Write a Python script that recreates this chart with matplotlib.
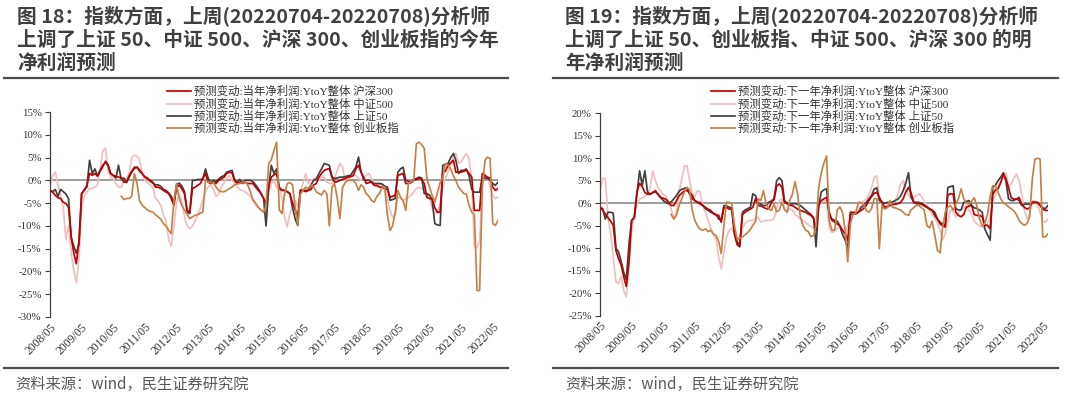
import matplotlib
matplotlib.use("Agg")
import matplotlib.pyplot as plt
from matplotlib.lines import Line2D
from matplotlib.ticker import FuncFormatter, MultipleLocator
import numpy as np
import pandas as pd

nan = np.nan

# monthly points, 2008/05 .. 2022/07
dates = pd.date_range("2008-05-01", periods=171, freq="MS")
tick_years = list(range(2008, 2023))
tick_dates = [pd.Timestamp(f"{y}-05-01") for y in tick_years]
tick_labels = [f"{y}/05" for y in tick_years]

# ---- figure 18: current-year net profit forecast change (%)
hs300_cur = [
    -2.2, -2.6, -3.3, -3.8, -4.0, -4.8, -5.1, -5.9, -12.5, -16.1, -18.3, -13.2,
    -2.9, -2.2, -1.1, 1.5, 1.1, 1.5, 0.9, 2.2, 3.3, 4.0, 3.3, 1.5,
    1.1, 0.9, 0.7, 0.6, -0.4, -0.4, 0.7, 1.8, 2.6, 2.9, 2.3, 1.5,
    0.7, 0.4, 0.0, -0.4, -1.5, -1.5, -1.8, -2.2, -2.6, -2.9, -4.0, -5.5,
    -1.5, -1.1, -1.8, -2.9, -6.6, -7.0, -1.8, -1.5, -1.1, -0.7, 0.4, 1.5,
    -0.4, -0.7, -0.4, -0.7, 0.0, 0.4, 0.7, 1.5, 1.8, 1.6, 0.0, -0.7,
    -0.4, -0.7, -0.4, -0.7, -0.7, -0.7, -1.5, -2.2, -2.9, -4.0, -5.1, -1.1,
    0.7, 1.2, 1.5, -1.5, -2.2, -2.2, -2.5, -2.9, -5.0, -6.5, -8.0, -2.2,
    -2.2, -2.5, -2.2, -2.0, -1.0, -0.7, 0.7, 1.5, 2.2, 2.4, 2.6, 0.7,
    -0.4, -0.3, 0.0, 0.2, 0.4, 0.7, 0.8, 1.0, 2.5, 3.3, 1.8, 0.7,
    -0.7, -0.5, -0.4, -1.1, -1.1, -1.5, -1.5, -1.8, -2.0, -3.7, -3.5, -3.3,
    1.1, 1.3, 1.5, -0.7, -0.7, -0.5, 0.0, 0.2, 0.4, 0.2, -0.7, -3.7,
    -4.0, -4.0, -6.0, -7.0, -7.0, 1.8, 2.0, 3.3, 3.8, 4.4, 1.8, 1.8,
    1.8, 2.0, 2.2, 1.5, 0.7, -6.6, -6.6, -6.6, 1.5, 1.0, 0.7, 0.5,
    -1.5, -2.2, -1.8,
]
zz500_cur = [
    -1.0, 1.0, 1.8, -1.0, -3.5, -6.0, -13.0, -10.0, -16.0, -20.0, -22.5, -17.0,
    -6.0, -3.5, -2.5, -1.8, -1.8, -1.5, -1.0, 2.5, 6.5, 7.0, 2.0, 0.7,
    0.3, -0.7, -1.5, -1.5, -0.3, 0.5, 1.5, 5.0, 5.5, 5.3, 4.5, 1.5,
    0.0, -0.5, -1.0, -1.5, -4.0, -4.5, -5.5, -7.5, -9.0, -13.0, -14.5, -10.0,
    -5.0, -3.0, -4.5, -8.0, -10.0, -10.6, -10.0, -9.0, -7.5, -6.0, -4.5, -2.5,
    -1.5, -1.0, -2.0, -3.5, -3.0, -1.5, -0.5, 0.5, 1.0, 0.0, -0.5, -1.5,
    -2.0, -2.2, -2.5, -3.0, -3.5, -4.0, -5.5, -6.0, -6.5, -7.0, -7.0, -2.5,
    -0.7, 0.0, -1.5, -1.8, -3.7, -8.0, -10.2, -7.3, -5.9, -4.4, -5.9, -2.2,
    -0.7, 1.5, -0.7, 0.0, 0.4, 0.4, 0.0, 0.7, 0.7, -0.4, -0.7, -0.7,
    0.4, 2.2, 3.7, 2.9, 0.0, 0.4, 0.7, 1.1, 1.1, 0.4, 0.0, 0.7,
    1.1, 1.5, 0.4, -1.1, -1.5, -0.7, -1.1, -2.2, -4.0, -6.6, -8.1, -7.7,
    -3.7, -4.0, -4.4, -4.0, -3.7, -3.3, -2.6, -1.8, -1.5, -1.8, -2.2, -2.9,
    -4.0, -6.2, -7.0, -7.3, -5.1, -1.5, 0.4, 1.8, 3.7, 5.1, 5.9, 3.7,
    4.0, 5.1, 5.9, 4.8, 0.0, -14.6, -14.8, -13.2, -0.7, 1.5, 0.7, -1.5,
    -3.3, -4.0, -3.7,
]
sz50_cur = [
    -2.2, -2.5, -2.0, -3.5, -2.0, -2.5, -3.0, -4.0, -12.5, -14.5, -16.0, -14.0,
    -3.0, -2.0, -1.5, 4.4, 1.5, 2.5, 1.0, 2.0, 3.0, 4.2, 3.5, 1.5,
    1.0, 0.5, 3.3, 0.3, 0.5, -0.5, 1.0, 2.0, 2.9, 2.8, 2.0, 1.5,
    0.8, 0.5, -0.2, -0.6, -1.0, -1.0, -1.3, -2.0, -2.2, -2.8, -3.5, -5.0,
    -1.0, -0.6, -1.2, -2.5, -7.0, -7.3, 0.0, 0.0, 0.2, 0.2, 0.3, 2.5,
    0.5, -0.5, 0.0, -0.3, 0.3, 0.8, 1.0, 1.8, 2.0, 2.2, 0.3, -0.5,
    0.2, -0.5, 0.0, 0.0, 0.0, -0.3, -1.0, -1.8, -2.8, -4.0, -10.0, -1.5,
    3.3, 1.5, 2.5, -1.8, -2.2, -2.2, -2.5, -2.9, -6.0, -8.5, -9.9, -2.2,
    -2.2, -2.2, -2.2, -1.0, 0.0, 0.3, 1.5, 2.5, 3.7, 3.5, 3.3, 0.7,
    0.4, 0.5, 0.7, 0.7, 0.8, 1.0, 1.1, 2.0, 2.9, 5.1, 2.0, 0.2,
    0.0, 0.0, -0.3, -0.7, -0.7, -0.7, -0.8, -1.3, -1.5, -4.4, -4.2, -4.0,
    1.8, 2.5, 2.9, 0.0, -0.2, -0.4, 0.2, 0.4, 0.7, 0.5, -2.9, -3.0,
    -3.2, -4.4, -9.5, -9.8, -9.9, 3.3, 3.5, 3.7, 5.0, 5.9, 4.4, 1.5,
    2.2, 2.2, 2.5, 1.0, -2.0, -2.6, -2.6, -2.6, 0.7, 0.5, 0.4, 0.0,
    -0.7, -1.1, -0.4,
]
cyb_cur = [nan] * 27 + [
    -3.5, -4.2, -4.0, -4.0, -3.5, 1.5, -0.7, -4.5, -5.5,
    -6.0, -6.5, -6.8, -7.0, -7.5, -8.0, -8.5, -9.5, -10.0, -11.0, -11.7, -4.5,
    -0.7, -4.0, -5.5, -6.5, -7.5, -8.4, -8.0, -7.7, -7.5, -7.2, -7.0, 0.0,
    -0.3, -0.5, -0.5, -1.5, -2.2, -2.5, -2.5, -2.2, -1.8, -1.5, -1.0, -0.8,
    -0.7, -0.5, -0.3, -1.0, -2.5, -4.4, -5.0, -5.9, -6.5, -7.0, -5.5, 3.7,
    4.5, 6.6, 8.4, -6.5, -7.3, -3.0, -0.7, -0.5, -1.0, -6.0, -9.9, -3.0,
    -2.2, -1.5, -1.8, -1.0, -1.5, -2.5, -2.9, -3.2, -2.2, -3.0, -10.0, -1.5,
    -0.7, -4.0, -8.4, -1.5, -0.5, 0.0, 0.0, 0.0, -0.7, -2.2, -1.0, -1.5,
    -2.9, -3.5, -4.4, -4.8, -3.5, -2.9, -1.5, -1.5, -7.7, -11.0, -10.0, -7.0,
    -2.2, -3.7, -4.5, -6.6, -0.7, -0.3, 0.0, 8.0, 8.4, 7.8, 7.0, 0.4,
    -1.5, -3.3, -4.8, -2.6, -0.5, 0.5, 3.7, 3.3, 2.5, 1.0, 0.0, -1.5,
    -2.2, -2.9, -3.0, -5.5, -7.0, -7.5, -24.2, -24.2, -1.5, 4.4, 5.1, 4.8,
    -9.5, -9.9, -8.8,
]

# ---- figure 19: next-year net profit forecast change (%)
hs300_next = [
    -0.9, -1.5, -2.4, -3.2, -4.0, -4.9, -10.5, -12.3, -13.8, -16.5, -18.5, -13.0,
    -3.8, -3.2, 2.5, 4.4, 3.7, 2.4, 2.0, 2.0, 2.4, 2.8, 2.0, 1.3,
    1.1, 0.9, 0.2, -0.5, -0.5, 0.6, 1.7, 2.2, 2.8, 2.8, 2.4, 1.8,
    0.6, 0.2, 0.2, -0.5, -0.9, -1.3, -1.6, -2.3, -2.6, -2.7, -4.2, -1.0,
    -0.9, -1.3, -1.3, -7.0, -9.2, -9.7, -2.5, -2.0, -1.6, -1.3, -0.9, 1.0,
    -0.5, -0.6, -0.9, -1.2, -1.3, 0.2, 0.8, 3.8, 4.3, 3.5, 0.2, -0.1,
    -0.5, -0.5, -0.9, -1.3, -1.6, -1.8, -2.0, -2.4, -2.7, -3.4, -6.0, -0.4,
    0.6, 1.0, 1.3, -2.0, -3.8, -4.2, -4.6, -5.0, -6.0, -6.8, -8.2, -2.0,
    -2.0, -2.2, -2.0, -1.6, -1.2, -0.5, 0.6, 1.5, 2.2, 2.4, 1.3, 0.2,
    -0.9, -0.7, -0.5, -0.3, -0.2, -0.1, 0.2, 1.0, 2.5, 3.5, 2.4, 0.3,
    -0.1, -0.1, -0.2, -0.6, -0.9, -1.3, -1.6, -2.7, -3.5, -4.6, -5.0, -5.3,
    1.8, 2.1, 2.1, -2.0, -2.7, -3.0, -2.5, -0.9, -0.6, -0.5, -2.5, -2.7,
    -2.7, -3.0, -4.9, -4.9, -5.7, 2.0, 3.0, 3.2, 4.6, 6.5, 5.5, 3.5,
    1.3, 0.9, 0.9, 1.3, -0.3, -0.9, -1.3, -1.0, 0.2, 0.2, 0.2, -0.5,
    -1.3, -1.6, -1.6,
]
zz500_next = [
    2.8, 5.5, 5.5, -3.0, -7.0, -12.0, -17.5, -17.8, -16.3, -19.5, -20.8, -14.0,
    -6.0, -3.0, -0.1, 0.9, 1.2, 1.5, 2.0, 3.5, 7.2, 5.0, 3.5, 2.8,
    2.0, 1.5, 0.5, -1.2, -3.5, -2.0, 2.5, 5.5, 8.3, 8.3, 5.0, 2.0,
    1.5, 2.8, 2.5, -0.5, -2.0, -3.8, -5.5, -7.0, -8.0, -12.0, -14.5, -11.0,
    -7.5, -6.0, -5.5, -6.5, -7.5, -8.2, -5.5, -4.5, -4.0, -3.8, -3.8, -3.5,
    -3.1, -4.2, -4.0, -3.8, -3.8, -3.8, -3.4, -1.0, 0.5, 1.0, -1.5, -2.0,
    -1.2, -1.5, -2.5, -3.0, -3.5, -3.8, -4.2, -4.8, -5.2, -5.5, -6.0, -0.5,
    0.2, 0.5, 0.5, -5.5, -6.5, -6.2, -5.6, -5.3, -6.0, -7.3, -5.0, -3.0,
    -2.2, -1.6, -1.0, -0.7, 0.5, 1.0, 1.8, 3.5, 5.7, 6.1, 1.3, -0.5,
    -0.7, -0.9, -0.5, 0.3, 0.6, 2.0, 4.3, 5.0, 3.0, 2.0, 1.0, 1.2,
    1.7, 2.1, 1.5, 0.5, -0.5, -1.5, -2.5, -3.3, -4.5, -6.0, -8.2, -6.8,
    -4.0, -1.5, -1.8, -3.0, -2.2, -1.5, -1.0, -0.5, -1.5, -2.5, -4.0, -4.6,
    -5.0, -5.3, -5.3, -4.5, -3.0, 0.3, 2.0, 3.5, 5.0, 5.7, 6.8, 3.5,
    4.3, 5.5, 6.5, 5.0, 2.0, -1.5, -3.5, -2.5, 0.5, 0.5, -0.5, -2.0,
    -4.0, -4.2, -3.5,
]
sz50_next = [
    -0.9, -1.2, -3.5, -2.0, -2.0, -2.2, -10.0, -10.8, -13.0, -15.5, -17.0, -9.0,
    -3.8, -3.2, 2.0, 7.2, 4.0, 7.2, 2.5, 2.0, 2.4, 2.5, 2.0, 1.3,
    0.6, 0.2, -0.1, 0.3, 1.0, 1.7, 2.7, 3.1, 3.3, 3.5, 2.0, 1.0,
    0.6, 0.2, -0.2, -0.5, -1.2, -1.6, -2.0, -2.2, -2.5, -3.5, -3.8, -0.5,
    -0.6, -0.9, -1.0, -6.5, -8.6, -9.3, -2.0, -1.5, -1.2, -0.9, 2.1, 1.7,
    0.0, -0.2, -0.5, -0.5, 0.2, 0.5, 1.0, 5.0, 5.7, 5.0, 0.6, 0.0,
    -0.2, -0.1, -0.1, -0.2, -0.5, -1.0, -1.5, -2.0, -2.5, -3.2, -9.7, -0.5,
    2.5, 3.0, 3.2, -3.0, -3.5, -3.8, -4.0, -5.0, -7.0, -8.2, -10.1, -2.5,
    -2.4, -2.4, -2.0, -1.0, -0.5, 0.2, 1.0, 1.7, 3.2, 3.4, 0.6, 0.2,
    0.0, 0.2, 0.2, 0.3, 0.6, 0.9, 1.6, 2.8, 4.5, 6.8, 1.5, 0.2,
    0.2, 0.2, 0.0, -0.4, -0.8, -1.2, -1.5, -2.0, -3.5, -4.2, -4.6, -5.0,
    3.5, 3.7, 3.9, -1.2, -1.5, -1.5, 0.2, 0.4, 0.6, -0.5, -1.0, -1.2,
    -1.5, -2.0, -5.7, -7.0, -8.2, 3.5, 4.0, 5.0, 5.8, 6.8, 5.0, 1.0,
    0.6, 0.6, 1.0, 0.6, -0.5, -0.2, -0.2, -0.2, 0.2, 0.2, 0.2, -0.5,
    -1.0, -1.2, -0.5,
]
cyb_next = [nan] * 27 + [
    -2.5, -3.5, -2.7, -0.5, 1.0, 2.5, 3.5, 3.0, -1.5,
    -3.8, -5.0, -5.8, -6.0, -5.7, -6.3, -6.0, -6.8, -7.2, -8.5, -11.2, -5.0,
    0.2, 0.2, 0.0, -5.0, -8.0, -7.8, -7.5, -7.0, -6.5, -5.8, -4.9, -4.0,
    1.0, 0.6, 2.8, 0.0, -1.3, -1.6, -0.2, -1.9, -1.5, 0.2, -1.3, -2.0,
    0.6, 2.0, 4.8, 2.0, -3.0, -5.0, -6.0, -6.3, -7.4, -7.2, -5.0, 3.5,
    6.8, 9.0, 10.5, -4.0, -6.0, -6.0, -1.5, -0.8, -2.0, -6.0, -13.0, -4.6,
    -2.5, -2.2, 0.2, 0.2, -0.2, -1.6, -2.0, -1.2, 1.0, 1.0, -10.1, -0.5,
    -1.3, -1.0, 0.6, -0.9, -1.0, -1.3, -1.5, -2.0, -2.5, -2.7, -1.5, -1.0,
    -0.5, -0.5, -1.0, -1.5, -4.9, -5.5, -4.0, -7.0, -10.5, -11.0, -5.5, -2.0,
    -0.9, -0.5, -1.5, -0.2, 1.0, 3.2, 1.0, 0.0, -0.2, 0.5, 1.2, -0.6,
    -3.5, -5.0, -4.5, -2.5, 1.5, 3.9, 3.9, 2.5, 1.0, 0.0, -0.2, -0.8,
    -1.2, -1.7, -2.5, -3.8, -4.5, -4.9, -4.5, -3.0, 5.5, 9.8, 10.0, 9.8,
    -7.5, -7.5, -6.8,
]

names = ["沪深300", "中证500", "上证50", "创业板指"]
colors = ["#C00000", "#F2BFBF", "#404040", "#C5814A"]
zorders = [4, 2, 3, 5]

serif = ["Liberation Serif", "Noto Sans CJK SC"]
cjk = ["Noto Sans CJK SC", "DejaVu Sans"]
title_color = "#404040"

fig = plt.figure(figsize=(10.8, 3.93), dpi=100)
W, H = 1080.0, 393.0


def fx(px):
    return px / W


def fy(py):
    return 1 - py / H


def draw_panel(rect, series, prefix, ylim, leg_xy):
    ax = fig.add_axes(rect)
    handles = []
    for vals, name, c, z in zip(series, names, colors, zorders):
        ln, = ax.plot(dates[:len(vals)], vals, color=c, lw=1.25, zorder=z,
                      label=f"{prefix}{name}")
        handles.append(ln)
    ax.axhline(0, color="#8c8c8c", lw=1.2, zorder=1)
    ax.set_xlim(dates[0], dates[-1])
    ax.set_ylim(*ylim)
    ax.yaxis.set_major_locator(MultipleLocator(5))
    ax.yaxis.set_major_formatter(FuncFormatter(lambda v, p: f"{v:.0f}%"))
    ax.set_xticks(tick_dates)
    ax.set_xticklabels(tick_labels, rotation=45, ha="right", va="top",
                       rotation_mode="anchor")
    for s in ["top", "right", "bottom"]:
        ax.spines[s].set_visible(False)
    ax.spines["left"].set_color("#404040")
    ax.spines["left"].set_linewidth(0.9)
    ax.tick_params(axis="y", direction="out", length=3.5, width=0.8,
                   color="#404040", pad=2.5, labelsize=7.8)
    ax.tick_params(axis="x", length=0, pad=3, labelsize=8.4)
    for t in ax.get_xticklabels() + ax.get_yticklabels():
        t.set_family(serif)
        t.set_color("#333333")
    leg = fig.legend(handles=handles, loc="upper left", bbox_to_anchor=leg_xy,
                     frameon=False, borderpad=0, borderaxespad=0,
                     handlelength=2.1, handletextpad=0.25, labelspacing=0.1,
                     prop={"family": serif, "size": 8.2})
    for t in leg.get_texts():
        t.set_color("#333333")
    return ax


# panel axes rectangles (figure fractions)
draw_panel([fx(50), fy(317), fx(448), (317 - 112) / H],
           [hs300_cur, zz500_cur, sz50_cur, cyb_cur],
           "预测变动:当年净利润:YtoY整体 ", (-30, 15), (fx(167), fy(86)))
draw_panel([fx(600), fy(315.7), fx(448), (315.7 - 113.3) / H],
           [hs300_next, zz500_next, sz50_next, cyb_next],
           "预测变动:下一年净利润:YtoY整体 ", (-25, 20), (fx(711), fy(86)))

titles = [
    (17, ["图 18：指数方面，上周(20220704-20220708)分析师",
          "上调了上证 50、中证 500、沪深 300、创业板指的今年",
          "净利润预测"]),
    (565, ["图 19：指数方面，上周(20220704-20220708)分析师",
           "上调了上证 50、创业板指、中证 500、沪深 300 的明",
           "年净利润预测"]),
]
for x0, lines in titles:
    for ty, line in zip([16, 40, 63], lines):
        fig.text(fx(x0), fy(ty), line, family=cjk, weight="bold", size=14.2,
                 color=title_color, ha="left", va="center")

# separators and source notes
for xa, xb in [(4, 508), (553, 1058)]:
    for ly in [77.7, 368]:
        fig.add_artist(Line2D([fx(xa), fx(xb)], [fy(ly), fy(ly)],
                              color="#4d4d4d", lw=1.6))
for x0 in [15, 565]:
    fig.text(fx(x0), fy(384), "资料来源：wind，民生证券研究院", family=cjk,
             size=11, color="#595959", ha="left", va="center")

fig.savefig("out.png", dpi=100)
